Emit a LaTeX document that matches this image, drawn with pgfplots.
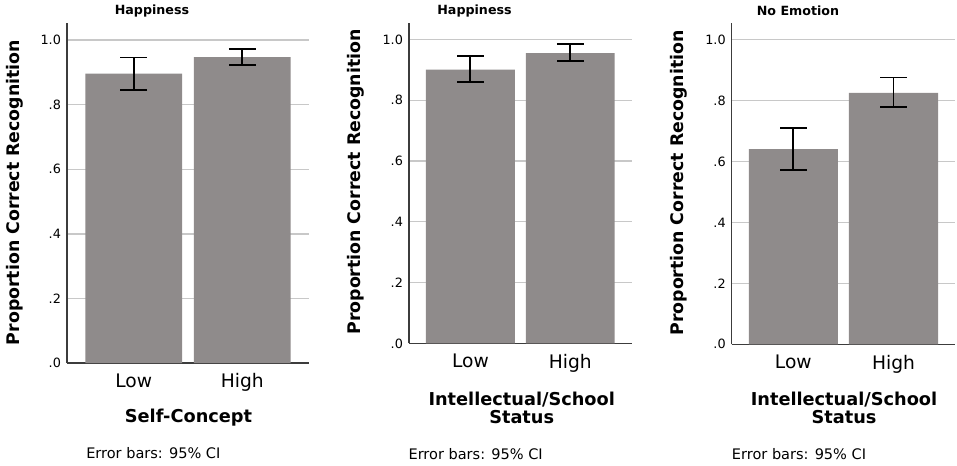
\documentclass[border=0pt]{standalone}
\usepackage{pgfplots}
\pgfplotsset{compat=1.18}
\usepackage{fontspec}
\setmainfont{DejaVu Sans}
\definecolor{barfill}{RGB}{143,139,139}
\definecolor{gridc}{RGB}{200,200,200}
\definecolor{axc}{RGB}{60,60,60}
\pgfplotsset{
  spssbar/.style={
    scale only axis,
    axis lines*=left,
    axis line style={draw=axc, line width=1pt},
    ymin=0, ymax=1.053,
    xmin=-0.615, xmax=1.615,
    ytick={0,0.2,0.4,0.6,0.8,1.0},
    yticklabels={.0,.2,.4,.6,.8,1.0},
    xtick={0,1},
    xticklabels={Low,High},
    major tick length=0pt,
    ymajorgrids,
    grid style={draw=gridc, line width=1pt},
    /pgf/number format/assume math mode=true,
    yticklabel style={font=\fontsize{9.6}{11}\selectfont, xshift=-1pt},
    xticklabel style={font=\fontsize{14}{16}\selectfont, yshift=-4.5pt},
    ybar, bar width=0.89,
    cycle list={{fill=barfill, draw=none}},
    error bars/y dir=both,
    error bars/y explicit,
    error bars/error mark=|,
    error bars/error bar style={draw=black, line width=1.4pt},
    error bars/error mark options={draw=black, line width=1.4pt, mark size=10pt},
  }
}
\begin{document}
\begin{tikzpicture}[x=0.75pt,y=-0.75pt]
\useasboundingbox (0,0) rectangle (957,465);

\begin{axis}[spssbar, at={(50.25pt,-272.25pt)}, anchor=south west,
  width=181.5pt, height=255pt]
\addplot[fill=barfill, draw=none] coordinates {(0,0.896) += (0,0.050) -= (0,0.050)
                      (1,0.947) += (0,0.026) -= (0,0.024)};
\end{axis}

\begin{axis}[spssbar, at={(306.75pt,-257.5pt)}, anchor=south west,
  width=167pt, height=240pt]
\addplot[fill=barfill, draw=none] coordinates {(0,0.901) += (0,0.044) -= (0,0.041)
                      (1,0.955) += (0,0.029) -= (0,0.026)};
\end{axis}

\begin{axis}[spssbar, at={(548.8pt,-258.2pt)}, anchor=south west,
  width=167.5pt, height=240.75pt]
\addplot[fill=barfill, draw=none] coordinates {(0,0.640) += (0,0.070) -= (0,0.068)
                      (1,0.825) += (0,0.050) -= (0,0.048)};
\end{axis}

% titles
\node[font=\bfseries\fontsize{9.5}{11}\selectfont] at (152,11) {Happiness};
\node[font=\bfseries\fontsize{9.5}{11}\selectfont] at (474.5,11) {Happiness};
\node[font=\bfseries\fontsize{9.5}{11}\selectfont] at (798,11) {No Emotion};
% y labels
\node[rotate=90, font=\bfseries\fontsize{13}{15}\selectfont] at (15,192.5) {Proportion Correct Recognition};
\node[rotate=90, font=\bfseries\fontsize{13}{15}\selectfont] at (356,182) {Proportion Correct Recognition};
\node[rotate=90, font=\bfseries\fontsize{13}{15}\selectfont] at (679,183) {Proportion Correct Recognition};
% x labels
\node[font=\bfseries\fontsize{13.3}{14}\selectfont] at (188.5,418) {Self-Concept};
\node[align=center, font=\bfseries\fontsize{13.3}{13.9}\selectfont] at (521.7,408) {Intellectual/School\\Status};
\node[align=center, font=\bfseries\fontsize{13.3}{13.9}\selectfont] at (844,408) {Intellectual/School\\Status};
% footnotes
\node[anchor=west, inner sep=0pt, font=\fontsize{10.9}{12}\selectfont] at (86,453) {Error bars: 95\% CI};
\node[anchor=west, inner sep=0pt, font=\fontsize{10.9}{12}\selectfont] at (408.3,454) {Error bars: 95\% CI};
\node[anchor=west, inner sep=0pt, font=\fontsize{10.9}{12}\selectfont] at (731.7,454) {Error bars: 95\% CI};
\end{tikzpicture}
\end{document}
